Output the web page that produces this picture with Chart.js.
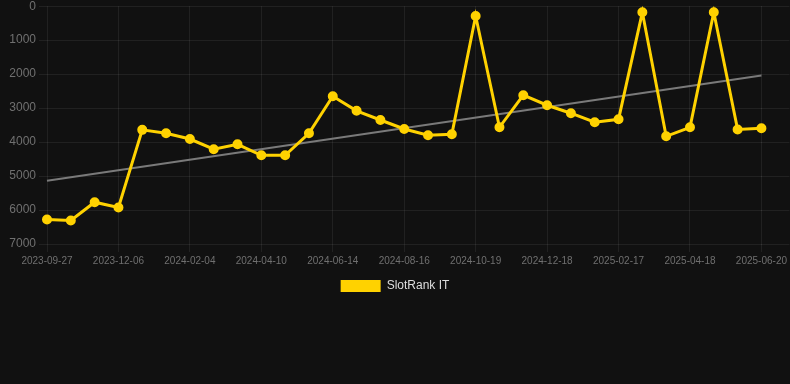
<!DOCTYPE html>
<html>
<head>
<meta charset="utf-8">
<script src="https://cdn.jsdelivr.net/npm/chart.js@4/dist/chart.umd.min.js"></script>
<style>
  html, body { margin: 0; padding: 0; background: #111111; overflow: hidden; }
  #wrap { width: 790px; height: 306px; position: relative; margin-top: -4px; }
</style>
</head>
<body>
<div id="wrap"><canvas id="rank-chart"></canvas></div>
<script>
// Dates (every third one is shown on the axis)
const dates = [
  "2023-09-27", "2023-10-20", "2023-11-12", "2023-12-06", "2023-12-26", "2024-01-15",
  "2024-02-04", "2024-02-25", "2024-03-18", "2024-04-10", "2024-05-02", "2024-05-23",
  "2024-06-14", "2024-07-05", "2024-07-26", "2024-08-16", "2024-09-06", "2024-09-28",
  "2024-10-19", "2024-11-08", "2024-11-28", "2024-12-18", "2025-01-07", "2025-01-28",
  "2025-02-17", "2025-03-09", "2025-03-29", "2025-04-18", "2025-05-09", "2025-05-30",
  "2025-06-20"
];

// Rank values
const rankIT = [
  6280, 6310, 5770, 5925, 3640, 3740, 3910, 4210, 4065, 4390, 4390, 3740,
  2650, 3080, 3350, 3615, 3800, 3770, 290, 3565, 2620, 2915, 3150, 3415,
  3330, 180, 3830, 3565, 180, 3630, 3595
];

// Trend line start / end
const trendEnds = [5140, 2040];

// Y axis ticks
const yTicks = [0, 1000, 2000, 3000, 4000, 5000, 6000, 7000];

const gold = "#FFD200";
const gridColor = "rgba(255,255,255,0.07)";
const font = "'Liberation Sans', Arial, Helvetica, sans-serif";

// Build trend data: only first and last points, gaps spanned
const trendData = dates.map((d, i) => {
  if (i === 0) return trendEnds[0];
  if (i === dates.length - 1) return trendEnds[1];
  return null;
});

const ctx = document.getElementById("rank-chart");

new Chart(ctx, {
  type: "line",
  data: {
    labels: dates,
    datasets: [
      {
        label: "SlotRank IT",
        data: rankIT,
        borderColor: gold,
        backgroundColor: gold,
        pointBackgroundColor: gold,
        pointBorderColor: gold,
        borderWidth: 3,
        pointRadius: 4,
        pointBorderWidth: 2,
        tension: 0,
        order: 1,
      },
      {
        label: "Trend",
        data: trendData,
        borderColor: "#7a7a7a",
        borderWidth: 2,
        pointRadius: 0,
        spanGaps: true,
        tension: 0,
        order: 2,
      },
    ],
  },
  options: {
    responsive: true,
    maintainAspectRatio: false,
    animation: false,
    layout: { padding: 0 },
    scales: {
      x: {
        grid: {
          color: (c) => (c.index % 3 === 0 ? gridColor : "transparent"),
          tickLength: 8,
        },
        border: { display: false },
        ticks: {
          color: "#707070",
          font: { family: font, size: 10 },
          autoSkip: false,
          maxRotation: 0,
          callback: function (value, index) {
            return index % 3 === 0 ? dates[index] : "";
          },
        },
      },
      y: {
        reverse: true,
        min: yTicks[0],
        max: yTicks[yTicks.length - 1],
        afterFit: (scale) => { scale.width = 47; },
        grid: { color: gridColor, tickLength: 8 },
        border: { display: false },
        ticks: {
          stepSize: 1000,
          color: "#707070",
          font: { family: font, size: 12 },
          padding: 3,
          callback: (value) => String(value),
        },
      },
      y2: {
        position: "right",
        reverse: true,
        min: yTicks[0],
        max: yTicks[yTicks.length - 1],
        grid: { color: gridColor, drawOnChartArea: false, tickLength: 28 },
        border: { display: false },
        ticks: { display: false, stepSize: 1000 },
      },
    },
    plugins: {
      legend: {
        position: "bottom",
        labels: {
          color: "#dddddd",
          font: { family: font, size: 12 },
          boxWidth: 40,
          boxHeight: 12,
          filter: (item) => item.datasetIndex === 0,
          generateLabels: (chart) =>
            Chart.defaults.plugins.legend.labels.generateLabels(chart).map((item) => {
              item.lineWidth = 0;
              return item;
            }),
        },
      },
      tooltip: { enabled: false },
    },
  },
});
</script>
</body>
</html>
